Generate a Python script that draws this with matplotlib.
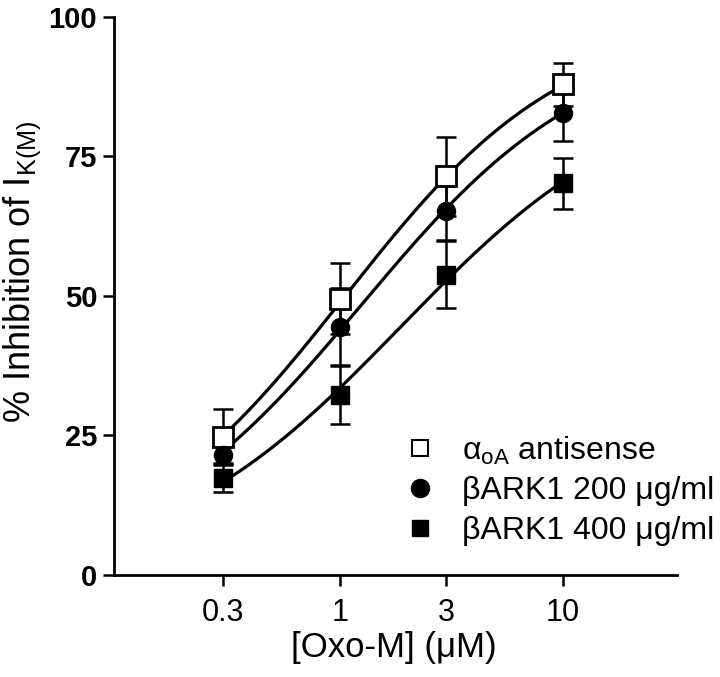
import numpy as np
import matplotlib
matplotlib.use("Agg")
import matplotlib.pyplot as plt
from matplotlib.lines import Line2D

plt.rcParams['font.family'] = ['Liberation Sans', 'DejaVu Sans']
plt.rcParams['mathtext.fontset'] = 'custom'
plt.rcParams['mathtext.rm'] = 'Liberation Sans'
plt.rcParams['mathtext.it'] = 'Liberation Sans:italic'

conc = [0.3, 1, 3, 10]
xticklabels = ["0.3", "1", "3", "10"]
yticks = [0, 25, 50, 75, 100]

antisense = [24.7, 49.5, 71.4, 87.9]
antisense_err = [5.0, 6.4, 7.0, 3.8]
bark200 = [21.5, 44.5, 65.2, 82.8]
bark200_err = [1.5, 6.9, 5.2, 5.0]
bark400 = [17.4, 32.3, 53.8, 70.2]
bark400_err = [2.5, 5.2, 6.0, 4.6]

labels = [r"α$_{\mathrm{oA}}$ antisense", "βARK1 200 μg/ml", "βARK1 400 μg/ml"]


def hill(x, top, ec50, n):
    return top / (1.0 + (ec50 / x) ** n)


def fit_hill(x, y):
    x = np.asarray(x, float)
    y = np.asarray(y, float)
    best = None
    for top in np.linspace(70, 130, 61):
        for lec in np.linspace(-1, 1.5, 101):
            for n in np.linspace(0.5, 1.5, 41):
                r = np.sum((hill(x, top, 10 ** lec, n) - y) ** 2)
                if best is None or r < best[0]:
                    best = (r, top, 10 ** lec, n)
    return best[1:]


fig = plt.figure(figsize=(7.2, 6.77), dpi=100)
ax = fig.add_axes([0.158, 0.151, 0.782, 0.824])

xs = np.logspace(np.log10(conc[0]), np.log10(conc[-1]), 200)
series = [
    (antisense, antisense_err, dict(marker='s', mfc='white', mec='black', ms=14, mew=2)),
    (bark200, bark200_err, dict(marker='o', mfc='black', mec='black', ms=13)),
    (bark400, bark400_err, dict(marker='s', mfc='black', mec='black', ms=13)),
]
for vals, errs, style in series:
    p = fit_hill(conc, vals)
    ax.plot(xs, hill(xs, *p), color='black', lw=2.3, zorder=2)
for vals, errs, style in series:
    ax.errorbar(conc, vals, yerr=errs, fmt='none', ecolor='black', elinewidth=1.8,
                capsize=7, capthick=1.8, zorder=3)
    ax.plot(conc, vals, linestyle='none', zorder=4, **style)

ax.set_xscale('log')
ax.set_xlim(0.097, 32.5)
ax.set_ylim(0, 100)
ax.set_xticks(conc)
ax.set_xticklabels(xticklabels)
ax.xaxis.set_minor_locator(matplotlib.ticker.NullLocator())
ax.set_yticks(yticks)
ax.tick_params(axis='both', direction='out', length=8, width=1.8)
ax.tick_params(axis='x', labelsize=22, pad=9)
ax.tick_params(axis='y', labelsize=21, pad=4)
for lab in ax.get_yticklabels():
    lab.set_fontweight('bold')
for s in ['top', 'right']:
    ax.spines[s].set_visible(False)
for s in ['left', 'bottom']:
    ax.spines[s].set_linewidth(2)

ax.set_xlabel("[Oxo-M] (μM)", fontsize=25)
ax.xaxis.set_label_coords(0.497, -0.131)
ax.xaxis.label.set_va('center')
ax.set_ylabel(r"% Inhibition of I$_{\mathrm{K(M)}}$", fontsize=26)
ax.yaxis.set_label_coords(-0.163, 0.543)
ax.yaxis.label.set_va('center')

handles = [
    Line2D([], [], linestyle='none', marker='s', mfc='white', mec='black', ms=12, mew=1.5),
    Line2D([], [], linestyle='none', marker='o', mfc='black', mec='black', ms=13),
    Line2D([], [], linestyle='none', marker='s', mfc='black', mec='black', ms=12),
]
fig.legend(handles, labels, loc='center left', bbox_to_anchor=(0.55, 0.276), frameon=False,
           fontsize=23, handletextpad=0.56, labelspacing=0.3, handlelength=1.5,
           borderpad=0, borderaxespad=0)

fig.savefig("out.png", dpi=100)
